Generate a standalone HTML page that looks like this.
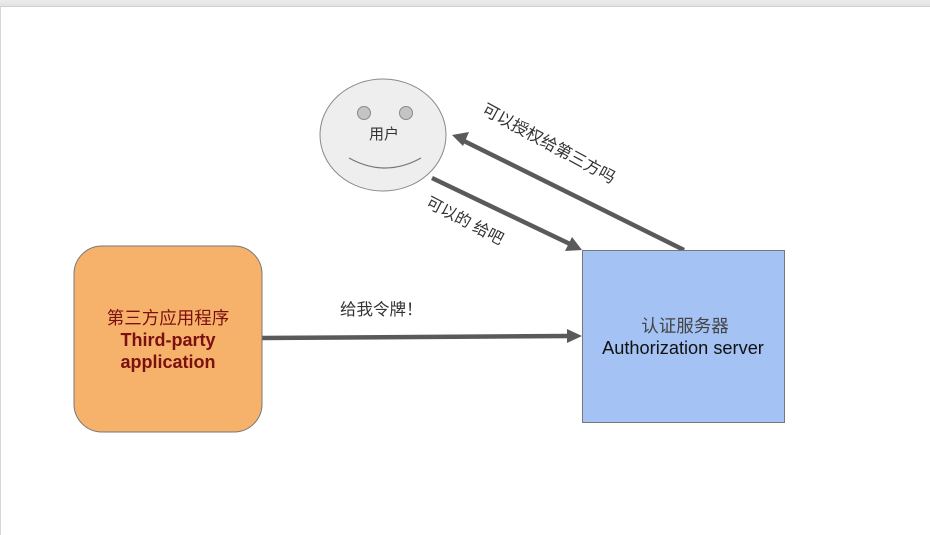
<!DOCTYPE html>
<html><head><meta charset="utf-8"><style>
html,body{margin:0;padding:0;background:#fff;}
svg{display:block;}
text{font-family:"Liberation Sans","Noto Sans CJK SC",sans-serif;}
</style></head><body>
<svg width="930" height="535" viewBox="0 0 930 535" xmlns="http://www.w3.org/2000/svg">
<defs>
<linearGradient id="top" x1="0" y1="0" x2="0" y2="1"><stop offset="0" stop-color="#ececec"/><stop offset="1" stop-color="#e2e2e2"/></linearGradient>
</defs>
<rect width="930" height="535" fill="#fff"/>
<rect x="0" y="0" width="930" height="6" fill="url(#top)"/>
<line x1="0" y1="6.5" x2="930" y2="6.5" stroke="#d0d0d0"/>
<line x1="0.5" y1="6" x2="0.5" y2="535" stroke="#d6d6d6"/>
<!-- face -->
<ellipse cx="383" cy="135" rx="63" ry="56" fill="#eeeeee" stroke="#8a8a8a" stroke-width="1"/>
<circle cx="364" cy="113" r="6.5" fill="#c4c4c4" stroke="#8a8a8a" stroke-width="1"/>
<circle cx="406" cy="113" r="6.5" fill="#c4c4c4" stroke="#8a8a8a" stroke-width="1"/>
<path d="M349 158 Q385 178 421 158" fill="none" stroke="#777" stroke-width="1.2"/>
<text x="384" y="139" font-size="15" text-anchor="middle" fill="#333">用户</text>
<!-- arrows -->
<g stroke="#5a5a5a" stroke-width="4.5" fill="none">
<line x1="684" y1="250" x2="464" y2="141"/>
<line x1="432" y1="178" x2="570" y2="244"/>
<line x1="262" y1="338" x2="568" y2="336"/>
</g>
<g fill="#5a5a5a">
<polygon points="452,135 469,132 463,146" />
<polygon points="582,250 565,251 572,237" />
<polygon points="582,336 567,329 567,343" />
</g>
<text transform="translate(481,113) rotate(28.5)" font-size="16.5" fill="#333">可以授权给第三方吗</text>
<text transform="translate(425,206) rotate(27.5)" font-size="16" fill="#333">可以的 给吧</text>
<text x="340" y="315" font-size="16.5" fill="#333">给我令牌！</text>
<!-- orange -->
<rect x="74" y="246" width="188" height="186" rx="28" fill="#f6b26b" stroke="#777" stroke-width="1"/>
<text x="168" y="324" font-size="17.5" text-anchor="middle" fill="#7a1010">第三方应用程序</text>
<text x="168" y="346" font-size="18" font-weight="bold" text-anchor="middle" fill="#7a1010">Third-party</text>
<text x="168" y="368" font-size="18" font-weight="bold" text-anchor="middle" fill="#7a1010">application</text>
<!-- blue -->
<rect x="582.5" y="250.5" width="202" height="172" fill="#a4c2f4" stroke="#777" stroke-width="1"/>
<text x="685" y="332" font-size="17.5" text-anchor="middle" fill="#444">认证服务器</text>
<text x="683" y="354" font-size="18.2" text-anchor="middle" fill="#111">Authorization server</text>
</svg>
</body></html>
